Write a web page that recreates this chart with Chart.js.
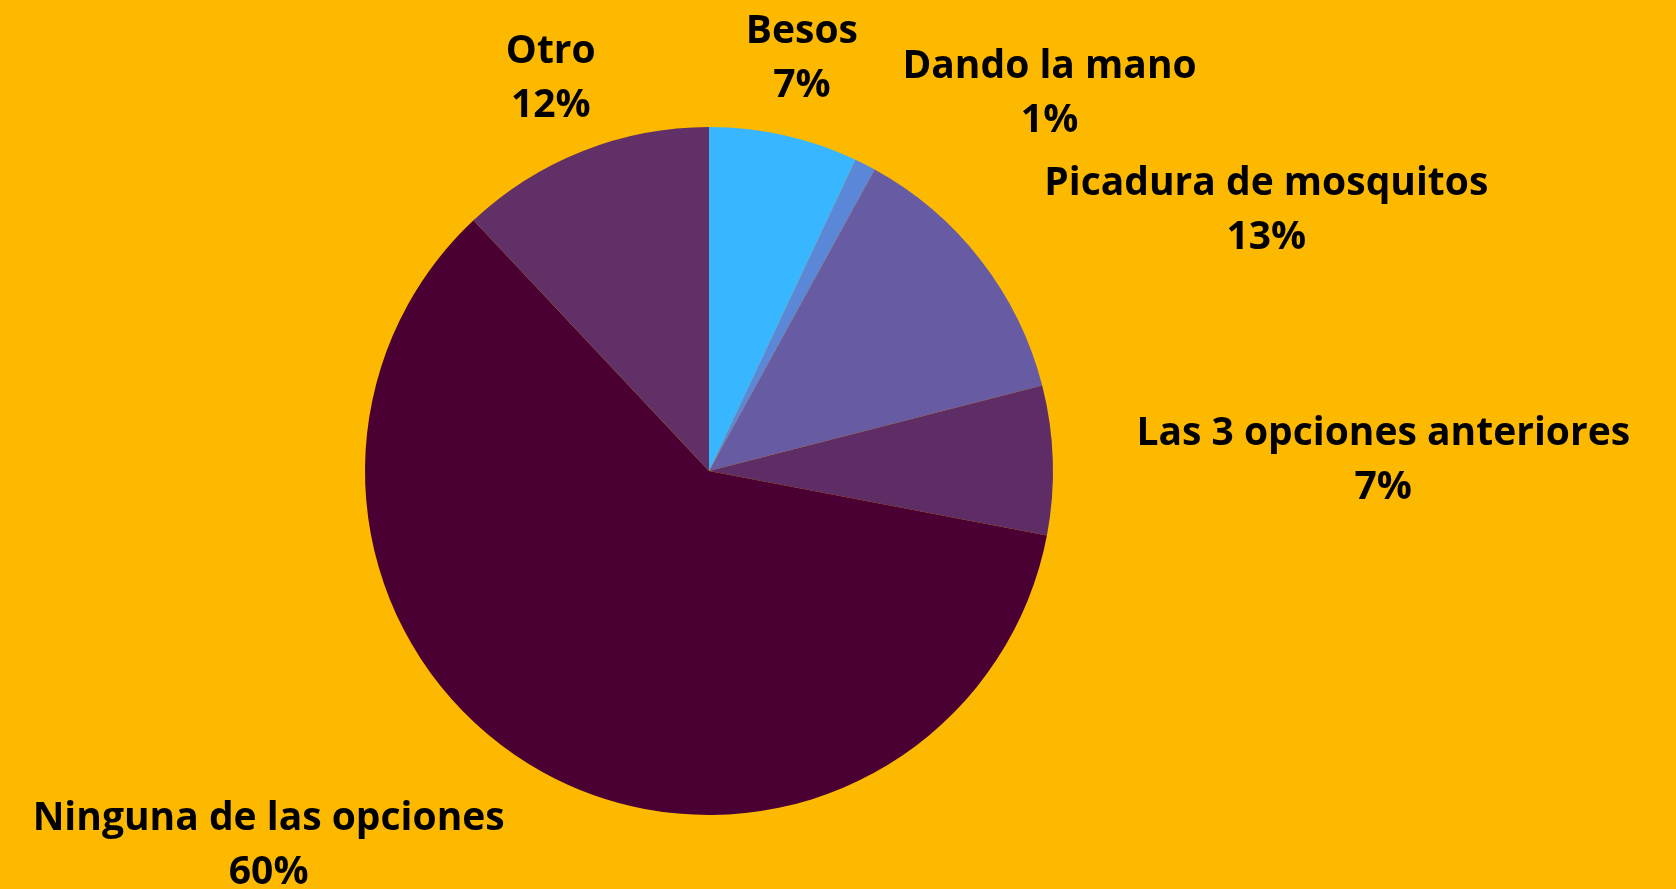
<!DOCTYPE html>
<html>
<head>
<meta charset="utf-8">
<script src="https://cdn.jsdelivr.net/npm/chart.js@4/dist/chart.umd.min.js"></script>
<style>
  html, body { margin: 0; padding: 0; background: #FCB900; }
  #wrap { width: 1676px; height: 889px; }
</style>
</head>
<body>
<div id="wrap"><canvas id="pie"></canvas></div>
<script>
// ==================== DATA ====================
const labels = ['Besos', 'Dando la mano', 'Picadura de mosquitos', 'Las 3 opciones anteriores', 'Ninguna de las opciones', 'Otro'];
const values = [7, 1, 13, 7, 60, 12];
const colors = ['#38B6FF', '#5B87D8', '#675BA3', '#5F2D65', '#4A0033', '#613066'];

// label anchor relative to pie centre, in units of radius
const labelSpots = [
    [0.27, -1.197],
    [0.99, -1.095],
    [1.62, -0.755],
    [1.96, -0.03],
    [-1.28, 1.09],
    [-0.46, -1.14]
];

const FONT = 'bold 39px "Open Sans"';

const pieLabels = {
    id: 'pieLabels',
    afterDatasetsDraw(chart) {
        const ctx = chart.ctx;
        const arcs = chart.getDatasetMeta(0).data;
        ctx.save();
        ctx.font = FONT;
        ctx.fillStyle = '#000';
        ctx.textAlign = 'center';
        ctx.textBaseline = 'middle';
        arcs.forEach((arc, i) => {
            const r = arc.outerRadius;
            const x = arc.x + labelSpots[i][0] * r;
            const y = arc.y + labelSpots[i][1] * r;
            ctx.fillText(labels[i], x, y - 27);
            ctx.fillText(values[i] + '%', x, y + 27);
        });
        ctx.restore();
    }
};

new Chart(document.getElementById('pie'), {
    type: 'pie',
    data: {
        labels: labels,
        datasets: [{ data: values, backgroundColor: colors, borderWidth: 0 }]
    },
    options: {
        responsive: true,
        maintainAspectRatio: false,
        animation: false,
        layout: { padding: { top: 127, bottom: 74, left: 0, right: 258 } },
        plugins: { legend: { display: false }, tooltip: { enabled: false } }
    },
    plugins: [pieLabels]
});
</script>
</body>
</html>
